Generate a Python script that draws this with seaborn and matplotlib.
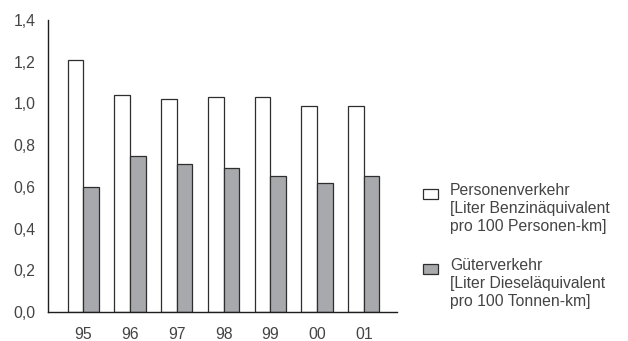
import matplotlib
matplotlib.use("Agg")
import matplotlib.pyplot as plt
import matplotlib.patches as mpatches
import seaborn as sns
import pandas as pd

# Energy intensity per transport sector, 1995-2001
years = ["95", "96", "97", "98", "99", "00", "01"]
personen = [1.21, 1.04, 1.02, 1.03, 1.03, 0.99, 0.99]
gueter = [0.60, 0.75, 0.71, 0.69, 0.65, 0.62, 0.65]
series = ["Personenverkehr", "Güterverkehr"]
legend_labels = [
    "Personenverkehr\n[Liter Benzinäquivalent\npro 100 Personen-km]",
    "Güterverkehr\n[Liter Dieseläquivalent\npro 100 Tonnen-km]",
]
yticks = [0.0, 0.2, 0.4, 0.6, 0.8, 1.0, 1.2, 1.4]

sns.set_theme(style="white")
plt.rcParams["font.family"] = ["Liberation Sans", "DejaVu Sans"]

text_color = "#444444"
fill_colors = ["#ffffff", "#a8a9ac"]
edge_color = "#2e2e2e"
font_size = 11.3

df = pd.DataFrame({
    "Jahr": years * 2,
    "Wert": personen + gueter,
    "Serie": [series[0]] * len(years) + [series[1]] * len(years),
})

fig = plt.figure(figsize=(6.28, 3.41), dpi=100)
ax = fig.add_axes([48 / 628, 1 - 312 / 341, (397 - 48) / 628, (312 - 20) / 341])

sns.barplot(data=df, x="Jahr", y="Wert", hue="Serie", order=years,
            hue_order=series, palette=fill_colors, width=0.67,
            edgecolor=edge_color, linewidth=0.9, legend=False, ax=ax,
            saturation=1)

ax.set_xlim(-0.756, 6.71)
ax.set_ylim(0, 1.4)
ax.set_yticks(yticks)
ax.set_yticklabels([f"{v:.1f}".replace(".", ",") for v in yticks])
ax.set_xlabel("")
ax.set_ylabel("")
ax.tick_params(axis="both", length=0, labelsize=font_size, labelcolor=text_color)
ax.tick_params(axis="y", pad=9)
ax.tick_params(axis="x", pad=11)

for side in ["top", "right"]:
    ax.spines[side].set_visible(False)
for side in ["left", "bottom"]:
    ax.spines[side].set_color("#1e1e1e")
    ax.spines[side].set_linewidth(1.0)

# Legend drawn as swatches with three-line captions
entries = [(194, legend_labels[0], fill_colors[0]), (269, legend_labels[1], fill_colors[1])]
for y_mid, label, color in entries:
    fig.patches.append(mpatches.Rectangle(
        (423 / 628, 1 - (y_mid + 5) / 341), 15 / 628, 10 / 341,
        transform=fig.transFigure, facecolor=color, edgecolor=edge_color,
        linewidth=0.9))
    fig.text(450 / 628, 1 - (y_mid - 11) / 341, label, ha="left", va="top",
             fontsize=font_size, color=text_color, linespacing=1.26)

fig.savefig("out.png", dpi=100)
